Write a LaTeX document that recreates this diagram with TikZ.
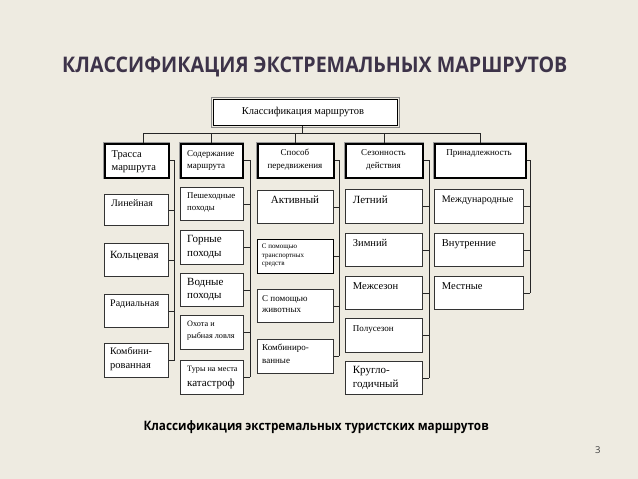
\documentclass[tikz,border=0pt]{standalone}
\usepackage{fontspec}
\setmainfont{Liberation Serif}
\newfontfamily\osans{Open Sans}
\definecolor{bgc}{HTML}{EEEBE1}
\definecolor{titlec}{HTML}{3D3349}
\newcommand\fsz[1]{\fontsize{#1}{#1}\selectfont}
\begin{document}
\begin{tikzpicture}[x=1pt,y=-1pt,
  bx/.style={draw=black!80, fill=white, line width=0.8pt, inner sep=0pt, anchor=north west},
  hd/.style={draw=black, fill=white, line width=1.5pt, inner sep=0pt, anchor=north west, preaction={draw=black!40, line width=3.4pt}},
  ln/.style={draw=black!85, line width=0.8pt},
  tx/.style={anchor=mid west, inner sep=0pt},
  tc/.style={anchor=mid, inner sep=0pt}]
\useasboundingbox (0,0) rectangle (638,479);
\fill[bgc] (0,0) rectangle (638,479);

% title and captions
\node[anchor=base west, inner sep=0pt, text=titlec, font=\osans\bfseries\fsz{21.5}] (title) at (62,72.8) {\scalebox{0.913}[1]{КЛАССИФИКАЦИЯ ЭКСТРЕМАЛЬНЫХ МАРШРУТОВ}};
\node[anchor=base west, inner sep=0pt, font=\osans\bfseries\fsz{13}] (caption) at (143.3,430) {\scalebox{0.903}[1]{Классификация экстремальных туристских маршрутов}};
\node[anchor=base west, inner sep=0pt, text=black!75, font=\osans\fsz{9.5}] (pnum) at (595,453.3) {3};

% top box
\node[bx, draw=black, minimum width=184pt, minimum height=26pt] (top) at (213,99) {};
\draw[black!45, line width=0.8pt] ([xshift=-2pt,yshift=2pt]top.north west) rectangle ([xshift=2pt,yshift=-2pt]top.south east);
\node[tc, font=\fsz{10.5}] (ttop) at (303,112.5) {Классификация маршрутов};

% headers
\node[hd, minimum width=64pt, minimum height=34pt] (h1) at (104,143) {};
\node[hd, minimum width=62pt, minimum height=34pt] (h2) at (180,143) {};
\node[hd, minimum width=76pt, minimum height=34pt] (h3) at (257,143) {};
\node[hd, minimum width=77pt, minimum height=34pt] (h4) at (345,143) {};
\node[hd, minimum width=91pt, minimum height=34pt] (h5) at (434,143) {};

% column 1
\node[bx, minimum width=64pt, minimum height=31pt] (c11) at (104,194) {};
\node[bx, minimum width=64pt, minimum height=33pt] (c12) at (104,243) {};
\node[bx, minimum width=64pt, minimum height=33pt] (c13) at (104,294) {};
\node[bx, minimum width=64pt, minimum height=34pt] (c14) at (104,343) {};
% column 2
\node[bx, minimum width=63pt, minimum height=33pt] (c21) at (180,187) {};
\node[bx, minimum width=63pt, minimum height=34pt] (c22) at (180,230) {};
\node[bx, minimum width=63pt, minimum height=33pt] (c23) at (180,273) {};
\node[bx, minimum width=63pt, minimum height=34pt] (c24) at (180,315) {};
\node[bx, minimum width=63pt, minimum height=34pt] (c25) at (180,360) {};
% column 3
\node[bx, minimum width=76pt, minimum height=33pt] (c31) at (257,190) {};
\node[bx, draw=black, line width=1.1pt, minimum width=76pt, minimum height=34pt] (c32) at (257,239) {};
\node[bx, minimum width=76pt, minimum height=33pt] (c33) at (257,289) {};
\node[bx, minimum width=76pt, minimum height=34pt] (c34) at (257,339) {};
% column 4
\node[bx, minimum width=77pt, minimum height=34pt] (c41) at (345,189) {};
\node[bx, minimum width=77pt, minimum height=33pt] (c42) at (345,233) {};
\node[bx, minimum width=77pt, minimum height=33pt] (c43) at (345,276) {};
\node[bx, minimum width=77pt, minimum height=34pt] (c44) at (345,318) {};
\node[bx, minimum width=77pt, minimum height=33pt] (c45) at (345,361) {};
% column 5
\node[bx, minimum width=89pt, minimum height=34pt] (c51) at (434,189) {};
\node[bx, minimum width=89pt, minimum height=33pt] (c52) at (434,233) {};
\node[bx, minimum width=89pt, minimum height=33pt] (c53) at (434,276) {};

% bus
\coordinate (bus) at (302,133);
\draw[ln] (top.south -| bus) -- (bus);
\draw[ln] (143,133) coordinate (busl) -- (479.5,133) coordinate (busr);
\draw[ln] (h1.north -| busl) -- (busl);
\draw[ln] (h2.north) -- (h2.north |- bus);
\draw[ln] (h3.north) -- (h3.north |- bus);
\draw[ln] (h4.north) -- (h4.north |- bus);
\draw[ln] (h5.north) -- (h5.north |- bus);

% column connectors
\coordinate (v1) at (174.5,0);
\coordinate (v2) at (250,0);
\coordinate (v3) at (339,0);
\coordinate (v4) at (429,0);
\coordinate (v5) at (530,0);
\draw[ln] (h1.east) -- (h1.east -| v1) -- (c14.east -| v1);
\foreach \c in {c11,c12,c13,c14} \draw[ln] (\c.east) -- (\c.east -| v1);
\draw[ln] (h2.east) -- (h2.east -| v2) -- (c25.east -| v2);
\foreach \c in {c21,c22,c23,c24,c25} \draw[ln] (\c.east) -- (\c.east -| v2);
\draw[ln] (h3.east) -- (h3.east -| v3) -- (c34.east -| v3);
\foreach \c in {c31,c32,c33,c34} \draw[ln] (\c.east) -- (\c.east -| v3);
\draw[ln] (h4.east) -- (h4.east -| v4) -- (c45.east -| v4);
\foreach \c in {c41,c42,c43,c44,c45} \draw[ln] (\c.east) -- (\c.east -| v4);
\draw[ln] (h5.east) -- (h5.east -| v5) -- (c53.east -| v5);
\foreach \c in {c51,c52,c53} \draw[ln] (\c.east) -- (\c.east -| v5);

% header texts
\node[tx, font=\fsz{10.5}] (th1a) at (111.5,155) {Трасса};
\node[tx, font=\fsz{10.5}] (th1b) at (111.5,168) {маршрута};
\node[tx, font=\fsz{9}] (th2a) at (187,154) {Содержание};
\node[tx, font=\fsz{9}] (th2b) at (187,166) {маршрута};
\node[tc, font=\fsz{9}] (th3a) at (295,153) {Способ};
\node[tc, font=\fsz{9}] (th3b) at (295,166) {передвижения};
\node[tc, font=\fsz{9}] (th4a) at (383.5,153) {Сезонность};
\node[tc, font=\fsz{9}] (th4b) at (383.5,166) {действия};
\node[tc, font=\fsz{9}] (th5a) at (479,153) {Принадлежность};

% column 1 texts
\node[tx, font=\fsz{10}] (t11) at (111,204) {Линейная};
\node[tx, font=\fsz{11}] (t12) at (110,256) {Кольцевая};
\node[tx, font=\fsz{10}] (t13) at (110,304) {Радиальная};
\node[tx, font=\fsz{10}] (t14a) at (110,352.7) {Комбини-};
\node[tx, font=\fsz{10.5}] (t14b) at (110,366) {рованная};
% column 2 texts
\node[tx, font=\fsz{8.8}] (t21a) at (187,196.7) {Пешеходные};
\node[tx, font=\fsz{8.8}] (t21b) at (187,208.3) {походы};
\node[tx, font=\fsz{11}] (t22a) at (187,240) {Горные};
\node[tx, font=\fsz{11}] (t22b) at (187,254) {походы};
\node[tx, font=\fsz{11}] (t23a) at (187,283.3) {Водные};
\node[tx, font=\fsz{11}] (t23b) at (187,296) {походы};
\node[tx, font=\fsz{8.2}] (t24a) at (187,324) {Охота и};
\node[tx, font=\fsz{8.2}] (t24b) at (187,336.7) {рыбная ловля};
\node[tx, font=\fsz{8.2}] (t25a) at (187,369.3) {Туры на места};
\node[tx, font=\fsz{11}] (t25b) at (187,384) {катастроф};
% column 3 texts
\node[tc, font=\fsz{11}] (t31) at (295,201.7) {Активный};
\node[tx, font=\fsz{7}] (t32a) at (261.7,246.7) {С помощью};
\node[tx, font=\fsz{7}] (t32b) at (261.7,255) {транспортных};
\node[tx, font=\fsz{7}] (t32c) at (261.7,263.3) {средств};
\node[tx, font=\fsz{9}] (t33a) at (262,299) {С помощью};
\node[tx, font=\fsz{9}] (t33b) at (262,310) {животных};
\node[tx, font=\fsz{9}] (t34a) at (262,348.3) {Комбиниро-};
\node[tx, font=\fsz{9}] (t34b) at (262,361) {ванные};
% column 4 texts
\node[tx, font=\fsz{11}] (t41) at (352.7,201.7) {Летний};
\node[tx, font=\fsz{10.5}] (t42) at (352.7,244) {Зимний};
\node[tx, font=\fsz{10.5}] (t43) at (352.7,287.3) {Межсезон};
\node[tx, font=\fsz{9}] (t44) at (352.7,329.3) {Полусезон};
\node[tx, font=\fsz{11}] (t45a) at (352.7,371.7) {Кругло-};
\node[tx, font=\fsz{11}] (t45b) at (352.7,385) {годичный};
% column 5 texts
\node[tx, font=\fsz{10}] (t51) at (441.7,200) {Международные};
\node[tx, font=\fsz{10.5}] (t52) at (441.7,244) {Внутренние};
\node[tx, font=\fsz{10.5}] (t53) at (441.7,287.3) {Местные};
\end{tikzpicture}
\end{document}
